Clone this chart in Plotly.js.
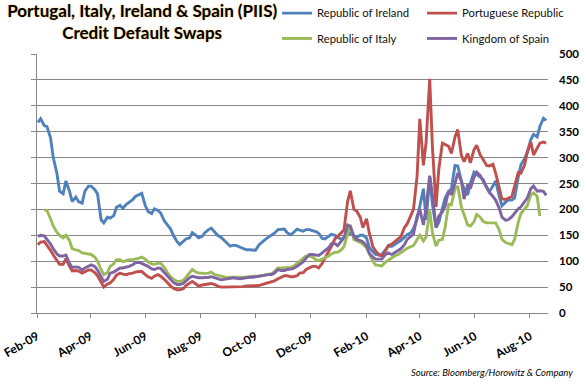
<!DOCTYPE html>
<html>
<head>
<meta charset="utf-8">
<script src="https://cdn.plot.ly/plotly-3.0.1.min.js"></script>
<style>html,body{margin:0;padding:0;background:#fff;}#chart{width:585px;height:382px;}</style>
</head>
<body>
<div id="chart"></div>
<script>
var dates = [
'2009-02-02','2009-02-05','2009-02-09','2009-02-12','2009-02-16','2009-02-19','2009-02-23','2009-02-26',
'2009-03-02','2009-03-05','2009-03-09','2009-03-12','2009-03-16','2009-03-19','2009-03-23','2009-03-26','2009-03-30',
'2009-04-02','2009-04-06','2009-04-09','2009-04-13','2009-04-16','2009-04-20','2009-04-23','2009-04-27','2009-04-30',
'2009-05-04','2009-05-07','2009-05-11','2009-05-14','2009-05-18','2009-05-21','2009-05-25','2009-05-28',
'2009-06-01','2009-06-04','2009-06-08','2009-06-11','2009-06-15','2009-06-18','2009-06-22','2009-06-25','2009-06-29',
'2009-07-02','2009-07-06','2009-07-09','2009-07-13','2009-07-16','2009-07-20','2009-07-23','2009-07-27','2009-07-30',
'2009-08-03','2009-08-06','2009-08-10','2009-08-13','2009-08-17','2009-08-20','2009-08-24','2009-08-27','2009-08-31',
'2009-09-03','2009-09-07','2009-09-10','2009-09-14','2009-09-17','2009-09-21','2009-09-24','2009-09-28',
'2009-10-01','2009-10-05','2009-10-08','2009-10-12','2009-10-15','2009-10-19','2009-10-22','2009-10-26','2009-10-29',
'2009-11-02','2009-11-05','2009-11-09','2009-11-12','2009-11-16','2009-11-19','2009-11-23','2009-11-26','2009-11-30',
'2009-12-03','2009-12-07','2009-12-10','2009-12-14','2009-12-17','2009-12-21','2009-12-24','2009-12-28','2009-12-31',
'2010-01-04','2010-01-07','2010-01-11','2010-01-14','2010-01-18','2010-01-21','2010-01-25','2010-01-28',
'2010-02-01','2010-02-04','2010-02-08','2010-02-11','2010-02-15','2010-02-18','2010-02-22','2010-02-25',
'2010-03-01','2010-03-04','2010-03-08','2010-03-11','2010-03-15','2010-03-18','2010-03-22','2010-03-25','2010-03-29',
'2010-04-01','2010-04-05','2010-04-08','2010-04-12','2010-04-15','2010-04-19','2010-04-22','2010-04-26','2010-04-29',
'2010-05-03','2010-05-06','2010-05-10','2010-05-13','2010-05-17','2010-05-20','2010-05-24','2010-05-27','2010-05-31',
'2010-06-03','2010-06-07','2010-06-10','2010-06-14','2010-06-17','2010-06-21','2010-06-24','2010-06-28',
'2010-07-01','2010-07-05','2010-07-08','2010-07-12','2010-07-15','2010-07-19','2010-07-22','2010-07-26','2010-07-29',
'2010-08-02','2010-08-05','2010-08-09','2010-08-12','2010-08-16','2010-08-19'
];

var ireland = [
368,375,362,360,338,300,270,235,
230,255,235,215,224,215,212,235,245,
245,238,230,180,174,185,183,188,204,
208,202,210,214,219,225,229,231,
207,196,192,201,198,193,178,172,162,
150,138,132,139,143,145,155,150,145,
148,155,161,164,156,150,146,141,133,
129,131,130,127,125,122,122,122,
121,132,137,142,146,150,154,161,162,
162,155,151,155,162,160,158,161,161,
159,157,154,144,143,148,152,150,147,
142,146,152,154,150,146,150,150,
145,127,118,113,112,113,122,129,
129,132,136,140,146,151,155,163,181,
205,240,180,262,210,165,175,200,222,
235,240,285,284,255,240,228,250,272,
268,262,258,243,234,245,255,225,
207,214,218,218,222,262,286,298,310,
335,345,340,360,376,372
];

var portugal = [
132,137,138,131,121,112,103,94,
94,105,90,81,82,81,77,80,83,
83,78,72,58,50,56,58,65,73,
77,75,74,76,77,79,80,80,
74,70,67,71,74,71,65,59,52,
48,45,45,47,53,58,61,56,52,
54,55,57,57,55,52,50,50,50,
50,50,50,50,51,52,52,52,
52,53,55,57,58,60,62,66,68,
72,72,70,70,72,77,78,84,88,
90,90,87,96,107,119,128,143,148,
155,160,215,236,200,197,185,165,
182,155,128,120,112,110,120,130,
133,138,143,147,165,172,190,200,264,
375,285,330,452,320,205,277,328,325,
322,308,340,354,305,292,308,290,315,
324,305,297,285,284,287,270,240,
220,219,221,225,245,271,270,285,310,
330,305,318,328,330,328
];

var italy = [
null,null,199,198,182,168,156,150,
145,150,140,124,122,121,116,115,115,
113,108,100,84,74,78,90,95,103,
103,99,101,103,103,104,106,108,
104,99,95,94,96,96,88,79,70,
66,61,61,63,69,78,84,79,77,
77,76,77,79,74,73,71,70,68,
69,69,68,68,68,69,70,71,
71,71,72,73,75,76,80,87,87,
87,87,88,90,96,100,107,110,110,
108,103,101,104,106,110,114,117,117,
122,128,150,170,142,140,136,133,
126,115,100,93,91,91,98,102,
107,110,113,117,122,125,128,130,142,
150,139,147,198,155,129,140,142,165,
210,209,240,245,205,190,170,168,176,
190,185,177,174,174,174,174,160,
142,136,134,132,142,175,192,202,207,
228,232,225,187,null,null
];

var spain = [
148,150,149,143,133,124,114,110,
110,112,96,88,89,88,83,87,91,
93,90,83,70,61,65,77,79,82,
87,87,88,90,93,97,98,96,
92,90,85,84,87,86,78,72,63,
59,55,55,57,62,68,71,69,68,
68,68,69,70,68,66,64,65,66,
67,68,67,66,67,69,69,69,
70,71,72,73,74,74,77,84,82,
82,84,85,86,90,94,99,106,113,
113,112,111,116,120,126,134,134,130,
138,145,170,167,148,142,140,137,
130,115,108,104,104,104,113,116,
113,116,120,124,132,142,148,152,187,
200,170,205,265,228,165,187,195,206,
236,228,251,270,255,220,248,240,262,
272,265,255,240,233,225,218,202,
185,179,180,186,193,201,205,215,222,
240,245,235,236,235,227
];

var seriesNames = ['Republic of Ireland','Portuguese Republic','Republic of Italy','Kingdom of Spain'];
var seriesColors = ['#4F81BD','#C0504D','#9BBB59','#8064A2'];

var xTickVals = ['2009-02-01','2009-04-01','2009-06-01','2009-08-01','2009-10-01','2009-12-01',
                 '2010-02-01','2010-04-01','2010-06-01','2010-08-01'];
var xTickText = ['Feb-09','Apr-09','Jun-09','Aug-09','Oct-09','Dec-09','Feb-10','Apr-10','Jun-10','Aug-10'];
var yTickVals = [0,50,100,150,200,250,300,350,400,450,500];

var FONT = 'Lato, "Open Sans", "DejaVu Sans", sans-serif';
var GRID = '#868686';

function mk(name, color, ys, legendId, yaxisId) {
  return {
    type: 'scatter', mode: 'lines', name: name, x: dates, y: ys,
    line: {color: color, width: 2.9}, legend: legendId, yaxis: yaxisId,
    connectgaps: false, hoverinfo: 'x+y+name'
  };
}

var data = [
  mk(seriesNames[0], seriesColors[0], ireland, 'legend', 'y'),
  mk(seriesNames[1], seriesColors[1], portugal, 'legend', 'y'),
  mk(seriesNames[2], seriesColors[2], italy, 'legend2', 'y'),
  mk(seriesNames[3], seriesColors[3], spain, 'legend2', 'y2')
];

var legendBase = {
  orientation: 'h', xref: 'paper', yref: 'paper', xanchor: 'left', yanchor: 'middle',
  x: 0.4697, entrywidth: 100, entrywidthmode: 'pixels', itemwidth: 30,
  font: {family: FONT, size: 11.3, color: '#111'}, bgcolor: 'rgba(0,0,0,0)', borderwidth: 0,
  traceorder: 'normal'
};

var layout = {
  width: 585, height: 382,
  margin: {l: 37, r: 37, t: 54, b: 69, autoexpand: false},
  paper_bgcolor: '#ffffff', plot_bgcolor: '#ffffff',
  showlegend: true,
  title: {
    text: 'Portugal, Italy, Ireland &amp; Spain (PIIS)<br>Credit Default Swaps',
    x: 0.243, xanchor: 'center', xref: 'container',
    y: 0.955, yanchor: 'top', yref: 'container',
    font: {family: FONT, size: 17, color: '#000', weight: 700, shadow: '0px 0px 2px rgba(240,170,40,0.75)'}
  },
  xaxis: {
    type: 'date', range: ['2009-02-01', '2010-08-21'],
    tickmode: 'array', tickvals: xTickVals, ticktext: xTickText,
    tickangle: -30, ticks: 'outside', ticklen: 4, tickcolor: GRID, tickwidth: 1,
    showline: true, linecolor: GRID, linewidth: 1, showgrid: false, zeroline: false,
    tickfont: {family: FONT, size: 12, color: '#000', weight: 700},
    ticklabelstandoff: 7, fixedrange: true
  },
  yaxis: {
    range: [0, 500], tickmode: 'array', tickvals: yTickVals, side: 'left',
    ticks: 'outside', ticklen: 5, tickcolor: GRID, showticklabels: false,
    showgrid: true, gridcolor: GRID, gridwidth: 1, zeroline: false,
    showline: true, linecolor: GRID, linewidth: 1, fixedrange: true
  },
  yaxis2: {
    range: [0, 500], tickmode: 'array', tickvals: yTickVals, side: 'right', overlaying: 'y',
    ticks: '', showgrid: false, zeroline: false, showline: false,
    tickfont: {family: FONT, size: 11.5, color: '#000', weight: 700},
    ticklabelstandoff: 10, fixedrange: true
  },
  legend: Object.assign({}, legendBase, {y: 1.158}),
  legend2: Object.assign({}, legendBase, {y: 1.060}),
  annotations: [{
    text: 'Source: Bloomberg/Horowitz &amp; Company', xref: 'paper', yref: 'paper',
    x: 1.0528, xanchor: 'right', y: -0.231, yanchor: 'middle', showarrow: false,
    font: {family: FONT, size: 9.5, color: '#000', style: 'italic'}
  }]
};

Plotly.newPlot('chart', data, layout, {displayModeBar: false, staticPlot: true});
</script>
</body>
</html>
